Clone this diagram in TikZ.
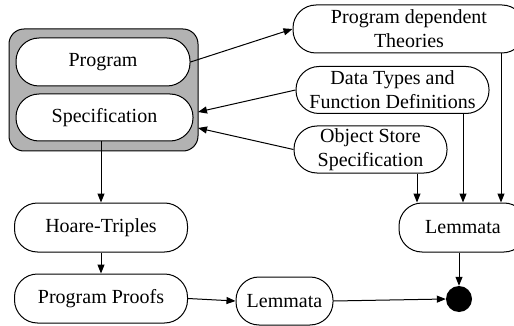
\documentclass[tikz,border=0pt]{standalone}
\usepackage{fontspec}
\setmainfont{Liberation Serif}
\usetikzlibrary{arrows.meta}
\begin{document}
\begin{tikzpicture}[x=1pt,y=-1pt,
  pill/.style={draw,line width=1pt,fill=white,rounded corners=23pt,inner sep=0pt,
    align=center,font=\fontsize{20}{24}\selectfont},
  conn/.style={line width=1pt,-{Triangle[length=9pt,width=7pt]}},
  line/.style={line width=1pt}]
\useasboundingbox (0,0) rectangle (514,326);
\clip (0,0) rectangle (514,326);
\node[draw,line width=1pt,fill=black!30,rounded corners=15pt,minimum width=189pt,minimum height=122pt,inner sep=0pt] (outer) at (103.5,90) {};
\node[pill,minimum width=174pt,minimum height=48pt] (prog) at (103,62) {Program};
\node[pill,minimum width=177pt,minimum height=47pt] (spec) at (104.5,117.5) {Specification};
\node[pill,minimum width=232pt,minimum height=48pt] (theo) at (409,29) {Program dependent\\Theories};
\node[pill,minimum width=193pt,minimum height=47pt] (data) at (392.5,90) {Data Types and\\Function Definitions};
\node[pill,minimum width=153pt,minimum height=47pt] (obj) at (370.5,149.5) {Object Store\\Specification};
\node[pill,minimum width=128pt,minimum height=49pt] (lemR) at (463,227.5) {Lemmata};
\node[pill,minimum width=173pt,minimum height=49pt] (hoare) at (101,227.5) {Hoare-Triples};
\node[pill,minimum width=173pt,minimum height=49pt] (proofs) at (101,298.5) {Program Proofs};
\node[pill,minimum width=97pt,minimum height=48pt] (lemB) at (284.5,301) {Lemmata};
\node[circle,fill=black,minimum size=26pt,inner sep=0pt] (dot) at (459,299) {};
\coordinate (inA) at (198,112);
\coordinate (inB) at (198,128);
\coordinate (xa) at (417,0);
\coordinate (xb) at (463,0);
\coordinate (xc) at (501,0);
\draw[conn] (prog.east) -- (theo.west);
\draw[conn] (data.west) -- (inA);
\draw[conn] (obj.west) -- (inB);
\draw[conn] (hoare.north |- spec.south) -- (hoare.north);
\draw[conn] (hoare.south) -- (proofs.north);
\draw[conn] (proofs.east) -- (lemB.west);
\draw[conn] (lemB.east) -- (dot.west);
\draw[conn] (obj.south -| xa) -- (lemR.north -| xa);
\draw[conn] (data.south -| xb) -- (lemR.north -| xb);
\draw[conn] (theo.south -| xc) -- (lemR.north -| xc);
\draw[conn] (dot.north |- lemR.south) -- (dot.north);
\end{tikzpicture}
\end{document}
